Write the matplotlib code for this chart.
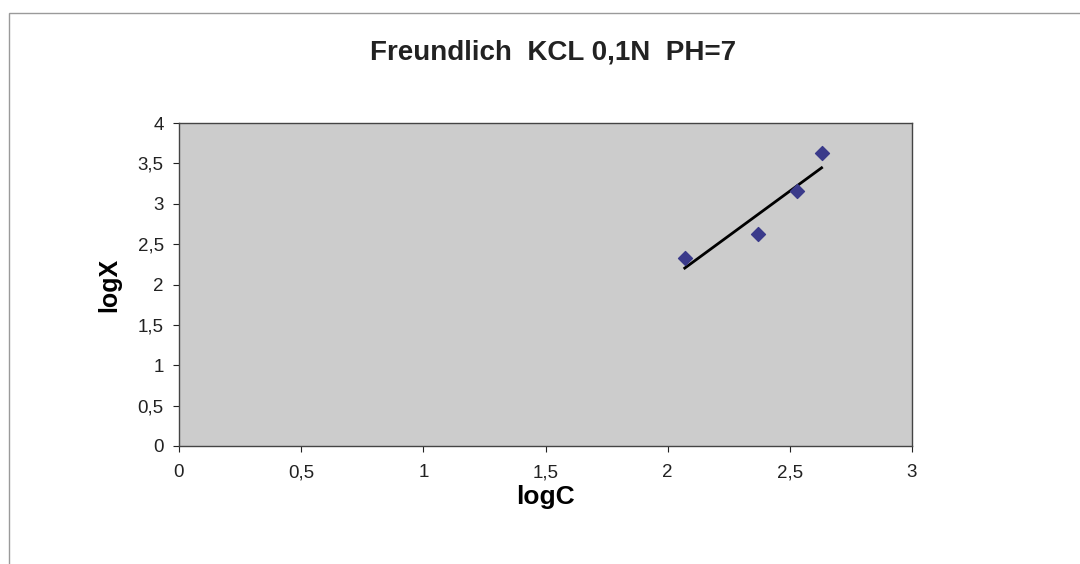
import matplotlib.pyplot as plt
import numpy as np
from matplotlib.patches import Rectangle

# data
log_c = [2.07, 2.37, 2.53, 2.63]
log_x = [2.33, 2.62, 3.16, 3.63]
x_ticks = [0, 0.5, 1, 1.5, 2, 2.5, 3]
x_ticklabels = ['0', '0,5', '1', '1,5', '2', '2,5', '3']
y_ticks = [0, 0.5, 1, 1.5, 2, 2.5, 3, 3.5, 4]
y_ticklabels = ['0', '0,5', '1', '1,5', '2', '2,5', '3', '3,5', '4']

plt.rcParams['font.family'] = ['Liberation Sans', 'DejaVu Sans']

fig = plt.figure(figsize=(10.8, 5.64), dpi=100)
# thin outer chart border (only top and left are visible)
fig.patches.append(Rectangle((9/1080, -0.1), 1.2, (564-13)/564 + 0.1, transform=fig.transFigure,
                             fill=False, edgecolor='#9a9a9a', linewidth=1))

ax = fig.add_axes([179/1080, 118/564, (912-179)/1080, (446-123)/564])
ax.set_facecolor('#cccccc')

ax.scatter(log_c, log_x, marker='D', s=50, color='#3a3a8a', zorder=3)

# linear trend line
k, b = np.polyfit(log_c, log_x, 1)
xs = np.array([min(log_c), max(log_c)])
ax.plot(xs, k*xs + b, color='black', linewidth=2, zorder=2)

ax.set_xlim(0, 3)
ax.set_ylim(0, 4)
ax.set_xticks(x_ticks)
ax.set_xticklabels(x_ticklabels)
ax.set_yticks(y_ticks)
ax.set_yticklabels(y_ticklabels)
ax.tick_params(labelsize=13.5, colors='#222222', length=4, width=0.8, pad=7)
ax.tick_params(axis='x', pad=9)
for s in ax.spines.values():
    s.set_color('#444444')
    s.set_linewidth(1)

ax.set_xlabel('logC', fontsize=19, fontweight='bold', labelpad=3)
ax.set_ylabel('logX', fontsize=18, fontweight='bold', labelpad=12)
fig.text(553/1080, 511/564, 'Freundlich  KCL 0,1N  PH=7', ha='center', va='center',
         fontsize=20, fontweight='bold', color='#222222')

plt.savefig('out.png', dpi=100)
